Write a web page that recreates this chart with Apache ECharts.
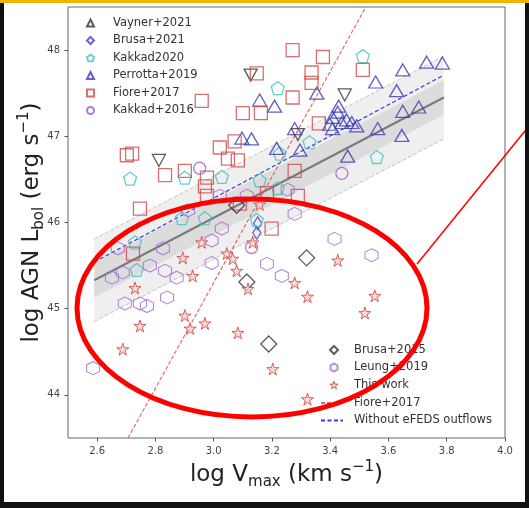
<!DOCTYPE html>
<html><head><meta charset="utf-8">
<script src="https://cdn.jsdelivr.net/npm/echarts@6/dist/echarts.min.js"></script>
<style>html,body{margin:0;padding:0;background:#fff}#c{width:529px;height:508px}</style>
</head><body><div id="c"></div><script>
// ---- tick labels ----
const xTicks = [2.6, 2.8, 3.0, 3.2, 3.4, 3.6, 3.8, 4.0];
const yTicks = [44, 45, 46, 47, 48];

// ---- data: [log Vmax, log L_AGN] ----
const vayner2021 = [[3.127,47.71],[3.450,47.48],[3.289,47.02],[2.812,46.72]];
const brusa2021 = [[3.151,45.99],[3.148,45.88]];
const kakkad2020 = [[3.512,47.93],[3.220,47.56],[3.329,46.93],[3.227,46.80],[3.560,46.76],[2.713,46.51],[2.901,46.52],[3.028,46.53],[3.158,46.49],[3.220,46.40],[2.891,46.05],[2.970,46.05],[3.148,46.03],[2.730,45.77],[2.736,45.45]];
const perrotta2019 = [[3.731,47.86],[3.785,47.85],[3.649,47.77],[3.556,47.63],[3.628,47.53],[3.354,47.50],[3.158,47.42],[3.209,47.35],[3.429,47.35],[3.649,47.29],[3.704,47.34],[3.408,47.22],[3.456,47.19],[3.440,47.16],[3.491,47.12],[3.408,47.09],[3.563,47.09],[3.646,47.01],[3.278,47.09],[3.097,46.98],[3.130,46.97],[3.216,46.86],[3.296,46.84],[3.460,46.77],[3.426,47.28],[3.474,47.16],[3.398,47.14]];
const fiore2017 = [[3.271,48.00],[3.375,47.92],[3.512,47.77],[3.148,47.73],[3.336,47.74],[3.336,47.62],[3.271,47.45],[2.959,47.41],[3.100,47.27],[3.162,47.27],[3.361,47.15],[3.021,46.87],[3.072,46.94],[3.049,46.74],[3.083,46.72],[2.702,46.78],[2.720,46.80],[3.278,46.60],[2.901,46.60],[2.833,46.55],[2.977,46.52],[2.970,46.42],[2.977,46.31],[3.183,46.34],[3.289,46.31],[2.747,46.16],[3.090,46.22],[3.199,45.93],[2.723,45.64]];
const kakkad2016 = [[3.440,46.57],[3.130,45.71],[2.952,46.63]];
const brusa2015 = [[3.079,46.20],[3.319,45.59],[3.114,45.31],[3.189,44.59]];
const leung2019 = [[3.021,46.31],[3.114,46.31],[3.254,46.38],[3.278,46.10],[2.912,46.14],[3.028,45.93],[2.993,45.79],[3.415,45.81],[3.542,45.62],[3.183,45.52],[3.234,45.38],[2.993,45.53],[2.826,45.70],[2.781,45.50],[2.833,45.44],[2.873,45.36],[2.688,45.42],[2.651,45.36],[2.671,45.70],[2.695,45.06],[2.747,45.06],[2.771,45.03],[2.840,45.13],[2.586,44.31]];
const thisWork = [[3.158,46.21],[3.134,45.77],[2.959,45.77],[2.894,45.59],[3.045,45.64],[3.065,45.58],[3.079,45.44],[2.928,45.38],[3.426,45.56],[3.278,45.30],[2.730,45.24],[3.118,45.23],[3.322,45.14],[3.553,45.15],[3.519,44.95],[2.901,44.92],[2.747,44.80],[2.970,44.83],[2.919,44.77],[3.083,44.72],[2.688,44.53],[3.203,44.30],[3.322,43.95]];

// ---- relations ----
const fitX = [2.59, 3.79];
const fitY = [45.33, 47.45];          // best fit (solid)
const noEfedsY = [45.54, 47.71];      // without eFEDS outflows (blue dashed)
const outerScatter = 0.48;            // dashed envelope
const innerScatter = 0.2;             // darker band
const fioreLineX = [2.706, 3.522];
const fioreLineY = [43.5, 48.5];

function pairs(xs, ys, off) { return xs.map((x, i) => [x, ys[i] + (off || 0)]); }

function starPath() {
  let s = 'path://';
  for (let i = 0; i < 10; i++) {
    const r = i % 2 ? 19.1 : 50, a = -Math.PI / 2 + i * Math.PI / 5;
    s += (i ? 'L' : 'M') + (50 + r * Math.cos(a)).toFixed(2) + ',' + (50 + r * Math.sin(a)).toFixed(2) + ' ';
  }
  return s + 'Z';
}
const PENT = 'path://M50,0 L97.55,34.55 L79.39,90.45 L20.61,90.45 L2.45,34.55 Z';
const HEX = 'path://M50,0 L93.3,25 L93.3,75 L50,100 L6.7,75 L6.7,25 Z';
const STAR = starPath();

function hollow(name, data, symbol, size, color, extra) {
  return Object.assign({
    name, type: 'scatter', data, symbol, symbolSize: size, z: 5,
    itemStyle: { color: 'rgba(0,0,0,0)', borderColor: color, borderWidth: 1.3 },
    emphasis: { disabled: true }
  }, extra || {});
}

function band(width, color) {
  return {
    type: 'custom', silent: true, z: 1, data: [0],
    renderItem: (p, api) => {
      const pts = [
        api.coord([fitX[0], fitY[0] - width]), api.coord([fitX[1], fitY[1] - width]),
        api.coord([fitX[1], fitY[1] + width]), api.coord([fitX[0], fitY[0] + width])
      ];
      return { type: 'polygon', shape: { points: pts }, style: { fill: color } };
    }
  };
}
function lineS(name, data, color, width, type, z) {
  return { name, type: 'line', data, symbol: 'none', silent: true, z: z || 2,
    lineStyle: { color, width, type }, itemStyle: { color: 'rgba(0,0,0,0)', borderWidth: 0 },
    emphasis: { disabled: true } };
}

const FONT = 'DejaVu Sans';
const chart = echarts.init(document.getElementById('c'), null, { renderer: 'canvas' });
const nameRich = {
  a: { fontSize: 23, lineHeight: 30, fontFamily: FONT, color: '#222' },
  s: { fontSize: 15, lineHeight: 15, verticalAlign: 'bottom', fontFamily: FONT, color: '#222' },
  p: { fontSize: 15, lineHeight: 15, verticalAlign: 'top', fontFamily: FONT, color: '#222' }
};
const legendText = { fontSize: 11.5, color: '#333', fontFamily: FONT };

chart.setOption({
  animation: false,
  backgroundColor: '#fff',
  grid: { left: 68, right: 24, top: 7, bottom: 70, show: true, borderColor: '#666', borderWidth: 1, backgroundColor: 'rgba(0,0,0,0)' },
  xAxis: {
    type: 'value', min: 2.5, max: 4.0,
    name: '{a|log V}{s|max}{a| (km s}{p|−1}{a|)}', nameLocation: 'middle', nameGap: 22, nameMoveOverlap: false,
    nameTextStyle: { rich: nameRich },
    axisLine: { show: false }, splitLine: { show: false },
    axisTick: { customValues: xTicks, length: 3.5, lineStyle: { color: '#555' } },
    axisLabel: { customValues: xTicks, formatter: v => v.toFixed(1), fontSize: 10, color: '#444', fontFamily: FONT, margin: 8 }
  },
  yAxis: {
    type: 'value', min: 43.5, max: 48.5,
    name: '{a|log AGN L}{s|bol}{a| (erg s}{p|−1}{a|)}', nameLocation: 'middle', nameGap: 21, nameRotate: 90, nameMoveOverlap: false,
    nameTextStyle: { rich: nameRich },
    axisLine: { show: false }, splitLine: { show: false },
    axisTick: { customValues: yTicks, length: 3.5, lineStyle: { color: '#555' } },
    axisLabel: { customValues: yTicks, formatter: v => String(v), fontSize: 10, color: '#444', fontFamily: FONT, margin: 8 }
  },
  legend: [
    { data: ['Vayner+2021', 'Brusa+2021', 'Kakkad2020', 'Perrotta+2019', 'Fiore+2017', 'Kakkad+2016'],
      orient: 'vertical', left: 86, top: 17, padding: 0, itemWidth: 7, itemHeight: 7, itemGap: 5.5,
      selectedMode: false, textStyle: Object.assign({ padding: [0, 0, 0, 14] }, legendText) },
    { data: ['Brusa+2015', 'Leung+2019', { name: 'This work', itemStyle: { color: '#f8d3cc', borderColor: '#d23c3c', borderWidth: 1 } }],
      orient: 'vertical', left: 329, top: 344, padding: 0, itemWidth: 8, itemHeight: 8, itemGap: 5.5,
      selectedMode: false, textStyle: Object.assign({ padding: [0, 0, 0, 11] }, legendText) },
    { data: ['Fiore+2017 ', 'Without eFEDS outflows'], formatter: n => n.trim(),
      orient: 'vertical', left: 320, top: 397, padding: 0, itemWidth: 22, itemHeight: 8, itemGap: 5.5,
      selectedMode: false, textStyle: Object.assign({ padding: [0, 0, 0, 6] }, legendText) }
  ],
  series: [
    band(outerScatter, '#efefef'),
    band(innerScatter, '#dcdcdc'),
    lineS('upper', pairs(fitX, fitY, outerScatter), '#c4c4c4', 1, [4, 2]),
    lineS('lower', pairs(fitX, fitY, -outerScatter), '#c4c4c4', 1, [4, 2]),
    lineS('fit', pairs(fitX, fitY), '#7a7a7a', 2, 'solid'),
    lineS('Without eFEDS outflows', pairs(fitX, noEfedsY), '#3b3bd6', 1.2, [4, 2.5], 3),
    lineS('Fiore+2017 ', pairs(fioreLineX, fioreLineY), '#e06060', 1.1, [4, 2], 3),
    hollow('Vayner+2021', vayner2021, 'triangle', [13, 12], '#333', { symbolRotate: 180 }),
    hollow('Brusa+2021', brusa2021, 'diamond', [8, 13], '#4040d0'),
    hollow('Kakkad2020', kakkad2020, PENT, 13, '#45c0c0'),
    hollow('Perrotta+2019', perrotta2019, 'triangle', [14, 12], '#3b3bb0'),
    hollow('Fiore+2017', fiore2017, 'rect', 13, '#d24848'),
    hollow('Kakkad+2016', kakkad2016, 'circle', 12, '#9b59c8'),
    hollow('Brusa+2015', brusa2015, 'diamond', 16, '#333'),
    hollow('Leung+2019', leung2019, HEX, 13, '#a56cd4', { itemStyle: { color: 'rgba(0,0,0,0)', borderColor: '#a56cd4', borderWidth: 1.1 } }),
    hollow('This work', thisWork, STAR, 12, '#d23c3c', { z: 6, itemStyle: { color: '#f8d3cc', borderColor: '#d23c3c', borderWidth: 1 } })
  ],
  graphic: [
    { type: 'rect', shape: { x: 0, y: 0, width: 4, height: 508 }, style: { fill: '#111' }, z: 200 },
    { type: 'rect', shape: { x: 525, y: 0, width: 4, height: 508 }, style: { fill: '#111' }, z: 200 },
    { type: 'rect', shape: { x: 0, y: 502, width: 529, height: 6 }, style: { fill: '#111' }, z: 200 },
    { type: 'rect', shape: { x: 0, y: 0, width: 529, height: 3 }, style: { fill: '#f0b400' }, z: 200 },
    { type: 'ellipse', shape: { cx: 252, cy: 308, rx: 175, ry: 109 }, style: { fill: 'none', stroke: '#ff0000', lineWidth: 5 }, z: 150 },
    { type: 'line', shape: { x1: 417, y1: 264, x2: 529, y2: 126 }, style: { stroke: '#ff0000', lineWidth: 1.5 }, z: 150 }
  ]
});
</script></body></html>
